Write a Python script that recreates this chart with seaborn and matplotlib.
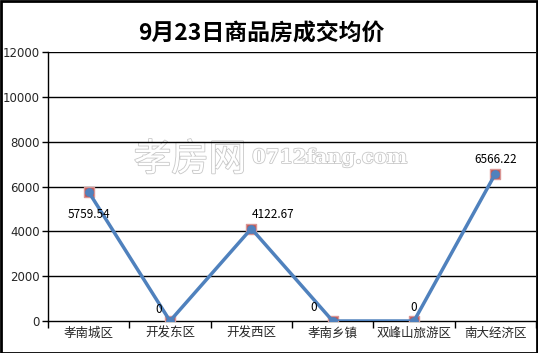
import matplotlib
matplotlib.use("Agg")
import matplotlib.pyplot as plt
import matplotlib.patheffects as pe
from matplotlib.patches import Rectangle
import seaborn as sns
import pandas as pd

categories = ["孝南城区", "开发东区", "开发西区", "孝南乡镇", "双峰山旅游区", "南大经济区"]
prices = [5759.54, 0, 4122.67, 0, 0, 6566.22]
label_texts = ["5759.54", "0", "4122.67", "0", "0", "6566.22"]
yticks = [0, 2000, 4000, 6000, 8000, 10000, 12000]
title = "9月23日商品房成交均价"

sns.set_theme(style="white")
plt.rcParams['font.family'] = ['Noto Sans CJK SC', 'DejaVu Sans']

df = pd.DataFrame({"x": range(len(categories)), "cat": categories, "price": prices})

fig = plt.figure(figsize=(5.38, 3.53), dpi=100)
ax = fig.add_axes([48/538, 1-321/353, (536-48)/538, (321-52)/353])

blue = "#4F81BD"
red = "#C0504D"

sns.scatterplot(data=df, x="x", y="price", marker="s", s=60, color=red,
                edgecolor="#D99594", linewidth=1, ax=ax, zorder=3)
sns.lineplot(data=df, x="x", y="price", color=blue, linewidth=2.5, ax=ax, zorder=4)
sns.scatterplot(data=df, x="x", y="price", marker="o", s=40, color=blue,
                edgecolor=blue, linewidth=0, ax=ax, zorder=5)

ax.set_xlim(-0.5, len(categories) - 0.5)
ax.set_ylim(0, 12000)
ax.set_yticks(yticks)
ax.set_yticklabels([str(v) for v in yticks], fontsize=8.5, family=['DejaVu Sans'])
ax.set_xticks(range(len(categories)))
ax.set_xticklabels(categories, fontsize=9)
ax.set_xticks([i - 0.5 for i in range(len(categories) + 1)], minor=True)
ax.tick_params(axis='x', which='major', length=0, pad=4)
ax.tick_params(axis='x', which='minor', length=5, width=1, color='black', direction='out', bottom=True)
ax.tick_params(axis='y', which='major', length=4, width=1, color='black', direction='out', left=True, pad=2)
ax.set_xlabel("")
ax.set_ylabel("")

ax.grid(False)
for v in yticks[1:]:
    ax.axhline(v, color="black", linewidth=1, zorder=1)

for side in ["top", "right"]:
    ax.spines[side].set_visible(False)
for side in ["left", "bottom"]:
    ax.spines[side].set_color("black")
    ax.spines[side].set_linewidth(1)

# data labels
offsets = [(0, -16, 'center'), (-8, 8, 'center'), (0, 10, 'left'), (-14, 10, 'center'), (0, 10, 'center'), (0, 10, 'center')]
for i, (t, (dx, dy, ha)) in enumerate(zip(label_texts, offsets)):
    ax.annotate(t, (i, prices[i]), xytext=(dx, dy), textcoords="offset points",
                ha=ha, va='center', fontsize=8.5, color="black", zorder=6)

# watermark
ax.text(190/538, 1-160/353, "孝房网", transform=fig.transFigure, fontsize=27, color="white",
        ha="center", va="center",
        path_effects=[pe.withStroke(linewidth=1.2, foreground="#C8C8C8")], zorder=0.5)
ax.text(330/538, 1-158/353, "0712fang.com", transform=fig.transFigure, fontsize=14, color="white",
        ha="center", va="center", family=['DejaVu Serif'], fontweight='bold',
        path_effects=[pe.withStroke(linewidth=1.2, foreground="#C8C8C8")], zorder=0.5)

fig.suptitle(title, x=0.485, y=0.94, fontsize=16.5, fontweight='bold', color="black")

fig.patches.append(Rectangle((0.5/538, 0.5/353), 1 - 1.5/538, 1 - 1.5/353, transform=fig.transFigure,
                             fill=False, edgecolor="black", linewidth=2, zorder=10))

fig.savefig("out.png", dpi=100)
